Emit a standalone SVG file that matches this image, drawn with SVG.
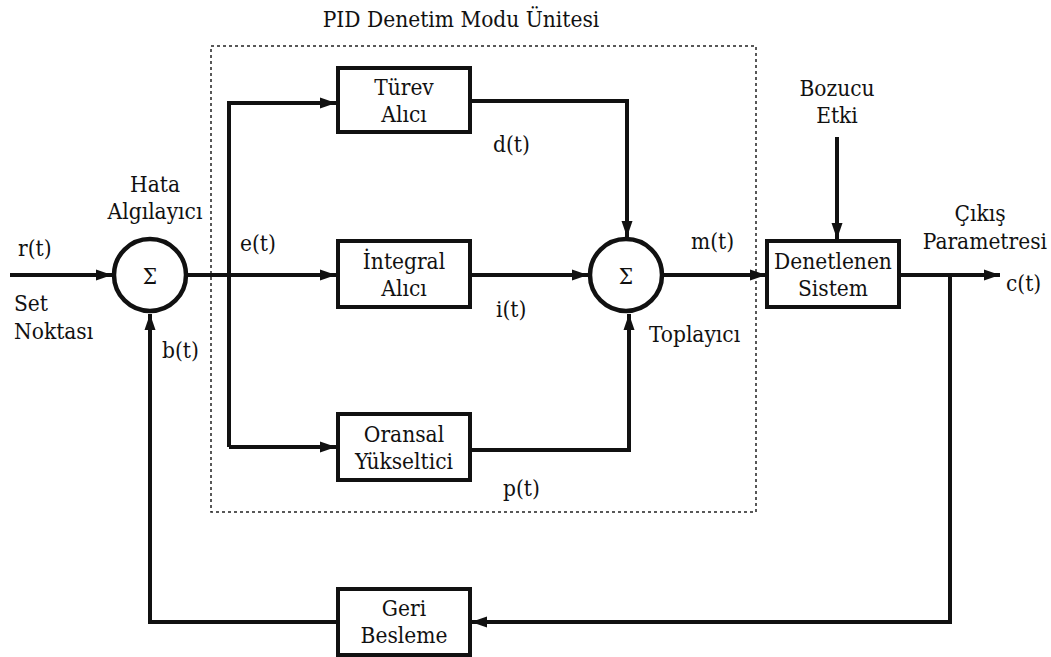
<svg xmlns="http://www.w3.org/2000/svg" width="1051" height="657" viewBox="0 0 1051 657">
<style>
text{font-family:"DejaVu Serif Condensed","DejaVu Serif",serif;font-stretch:condensed;font-size:22.5px;fill:#111}
.c{text-anchor:middle}
.box{fill:#fff;stroke:#111;stroke-width:4}
.ln{fill:none;stroke:#111;stroke-width:4}
.sum{fill:#fff;stroke:#111;stroke-width:4.5}
</style>
<defs>
<marker id="ah2" markerWidth="16" markerHeight="12" refX="16" refY="6" orient="auto" markerUnits="userSpaceOnUse" viewBox="0 0 16 12"><path d="M0,0.5 L16,6 L0,11.5 Z" fill="#111"/></marker>
</defs>
<rect x="211" y="46" width="545" height="466" fill="none" stroke="#222" stroke-width="1.5" stroke-dasharray="3,3"/>
<text class="c" x="461" y="27">PID Denetim Modu Ünitesi</text>
<g id="connectors">
<path class="ln" d="M10,275 H112" marker-end="url(#ah2)"/>
<path class="ln" d="M186,275 H336" marker-end="url(#ah2)"/>
<path class="ln" d="M229,447 V103 H336" marker-end="url(#ah2)"/>
<path class="ln" d="M229,447 H336" marker-end="url(#ah2)"/>
<path class="ln" d="M470,101 H627 V237" marker-end="url(#ah2)"/>
<path class="ln" d="M470,275 H588" marker-end="url(#ah2)"/>
<path class="ln" d="M470,450 H629 V314" marker-end="url(#ah2)"/>
<path class="ln" d="M664,275 H766" marker-end="url(#ah2)"/>
<path class="ln" d="M837,137 V239" marker-end="url(#ah2)"/>
<path class="ln" d="M900,275 H1000" marker-end="url(#ah2)"/>
<path class="ln" d="M950,275 V622 H471" marker-end="url(#ah2)"/>
<path class="ln" d="M337,622 H150 V314" marker-end="url(#ah2)"/>
</g>
<g id="sum1"><circle class="sum" cx="150" cy="275" r="36"/><text class="c" x="150" y="284">Σ</text></g>
<g id="sum2"><circle class="sum" cx="626" cy="275" r="36"/><text class="c" x="626" y="284">Σ</text></g>
<g id="turev"><rect class="box" x="338" y="68" width="132" height="64"/><text class="c" x="404" y="95">Türev</text><text class="c" x="404" y="122">Alıcı</text></g>
<g id="integral"><rect class="box" x="338" y="241" width="132" height="66"/><text class="c" x="404" y="269">İntegral</text><text class="c" x="404" y="296">Alıcı</text></g>
<g id="oransal"><rect class="box" x="338" y="414" width="132" height="66"/><text class="c" x="404" y="442">Oransal</text><text class="c" x="404" y="469">Yükseltici</text></g>
<g id="denetlenen"><rect class="box" x="767" y="241" width="132" height="66"/><text class="c" x="833" y="269">Denetlenen</text><text class="c" x="833" y="296">Sistem</text></g>
<g id="geri"><rect class="box" x="338" y="589" width="132" height="66"/><text class="c" x="404" y="616">Geri</text><text class="c" x="404" y="643">Besleme</text></g>
<g id="labels">
<text class="c" x="155" y="192">Hata</text>
<text class="c" x="155" y="219">Algılayıcı</text>
<text x="18" y="256">r(t)</text>
<text x="14" y="311">Set</text>
<text x="14" y="339">Noktası</text>
<text x="162" y="358">b(t)</text>
<text x="240" y="251">e(t)</text>
<text x="493" y="152">d(t)</text>
<text x="496" y="317">i(t)</text>
<text x="503" y="496">p(t)</text>
<text x="691" y="249">m(t)</text>
<text x="649" y="342">Toplayıcı</text>
<text class="c" x="837" y="96">Bozucu</text>
<text class="c" x="837" y="123">Etki</text>
<text class="c" x="980" y="221">Çıkış</text>
<text x="1047" y="249" text-anchor="end">Parametresi</text>
<text x="1006" y="291">c(t)</text>
</g>
</svg>
